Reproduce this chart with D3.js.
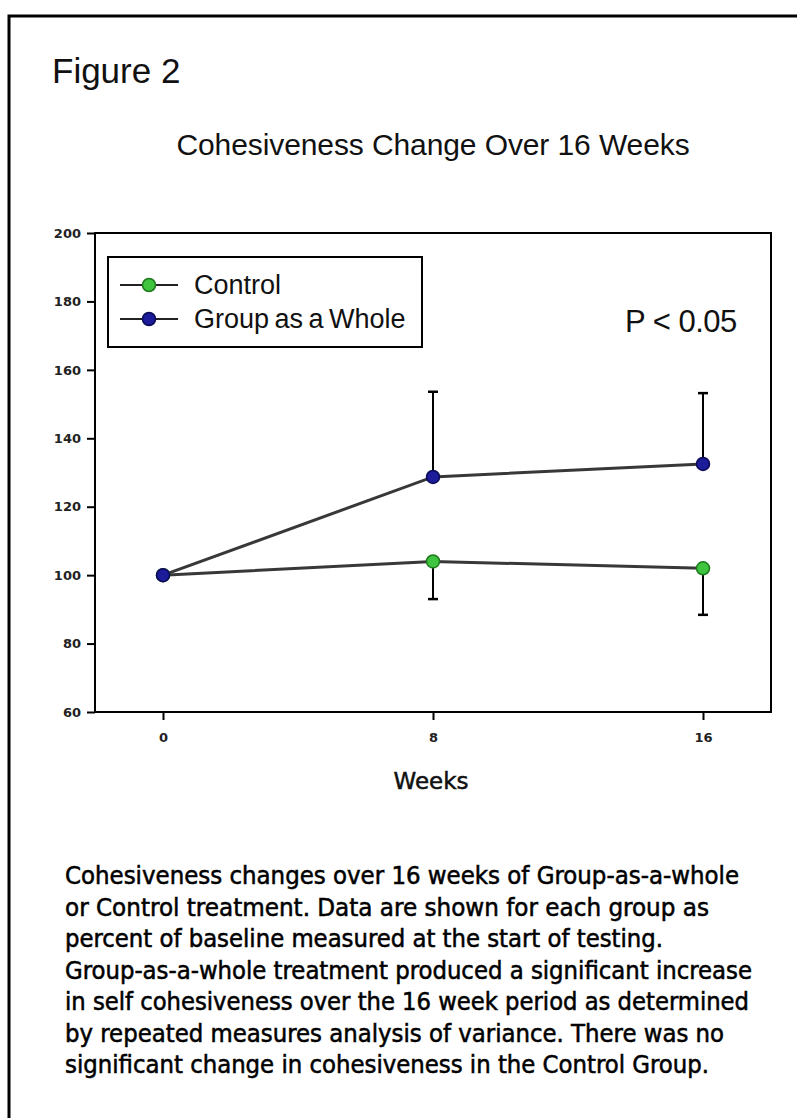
<!DOCTYPE html>
<html>
<head>
<meta charset="utf-8">
<script src="https://cdn.jsdelivr.net/npm/d3@7"></script>
<style>
  body { margin: 0; background: #fff; }
  svg { display: block; }
  .tick text { font-family: "DejaVu Sans", sans-serif; font-weight: bold; font-size: 13px; fill: #222; }
  .tick line { stroke: #000; stroke-width: 2; }
</style>
</head>
<body>
<div class="figure"></div>
<script>
// data
const weeks = [0, 8, 16];
const controlMean = [100, 104, 102];
const controlLow = [100, 93, 88.4];
const groupMean = [100, 128.7, 132.5];
const groupHigh = [100, 153.6, 153.2];
const yTicks = [60, 80, 100, 120, 140, 160, 180, 200];
const seriesNames = ["Control", "Group as a Whole"];
const captionLines = [
	"Cohesiveness changes over 16 weeks of Group-as-a-whole",
	"or Control treatment. Data are shown for each group as",
	"percent of baseline measured at the start of testing.",
	"Group-as-a-whole treatment produced a significant increase",
	"in self cohesiveness over the 16 week period as determined",
	"by repeated measures analysis of variance. There was no",
	"significant change in cohesiveness in the Control Group."
];
// right edge of each caption line in the picture
const captionRight = [739, 709, 663, 752, 749, 724, 709];

const svg = d3.select(".figure")
	.append("svg")
	.attr("width", 797)
	.attr("height", 1118);

// page frame
svg.append("rect")
	.attr("x", 9).attr("y", 16)
	.attr("width", 820).attr("height", 1130)
	.style("fill", "none").style("stroke", "#000").style("stroke-width", 3);

svg.append("text")
	.text("Figure 2")
	.attr("x", 52).attr("y", 83)
	.style("font-family", "Liberation Sans, Arial, sans-serif")
	.style("font-size", "35px")
	.style("fill", "#111");

svg.append("text")
	.text("Cohesiveness Change Over 16 Weeks")
	.attr("x", 433).attr("y", 155)
	.attr("text-anchor", "middle")
	.style("font-family", "Liberation Sans, Arial, sans-serif")
	.style("font-size", "30px")
	.style("letter-spacing", "-0.1px")
	.style("fill", "#111");

// scales
const plot = { left: 95, right: 771, top: 233, bottom: 712 };
const x = d3.scaleLinear().domain([0, 16]).range([163, 703]);
const y = d3.scaleLinear().domain([60, 200]).range([plot.bottom, plot.top]);

// axes
const yAxis = svg.append("g")
	.attr("transform", `translate(${plot.left},0)`)
	.call(d3.axisLeft(y).tickValues(yTicks).tickSize(8).tickSizeOuter(0).tickPadding(6));
yAxis.select(".domain").remove();

const xAxis = svg.append("g")
	.attr("transform", `translate(0,${plot.bottom})`)
	.call(d3.axisBottom(x).tickValues(weeks).tickSize(8).tickSizeOuter(0).tickPadding(13));
xAxis.select(".domain").remove();

svg.append("rect")
	.attr("x", plot.left).attr("y", plot.top)
	.attr("width", plot.right - plot.left).attr("height", plot.bottom - plot.top)
	.style("fill", "none").style("stroke", "#000").style("stroke-width", 2);

svg.append("text")
	.text("Weeks")
	.attr("x", 431).attr("y", 789)
	.attr("text-anchor", "middle")
	.style("font-family", "DejaVu Sans, sans-serif")
	.style("font-size", "23px")
	.style("fill", "#111")
	.style("stroke", "#111").style("stroke-width", 0.5);

// error bars
const errBars = [
	...weeks.map((w, i) => ({ w, from: controlMean[i], to: controlLow[i] })),
	...weeks.map((w, i) => ({ w, from: groupMean[i], to: groupHigh[i] }))
].filter((d) => d.from !== d.to);

const eb = svg.append("g").attr("class", "errors")
	.selectAll("g").data(errBars).enter().append("g");
eb.append("line")
	.attr("x1", (d) => x(d.w)).attr("x2", (d) => x(d.w))
	.attr("y1", (d) => y(d.from)).attr("y2", (d) => y(d.to))
	.style("stroke", "#000").style("stroke-width", 2);
eb.append("line")
	.attr("x1", (d) => x(d.w) - 5).attr("x2", (d) => x(d.w) + 5)
	.attr("y1", (d) => y(d.to)).attr("y2", (d) => y(d.to))
	.style("stroke", "#000").style("stroke-width", 2.5);

// lines and markers
const series = [
	{ name: seriesNames[0], values: controlMean, fill: "#3fc43f", stroke: "#1d7a1d" },
	{ name: seriesNames[1], values: groupMean, fill: "#1c1c9a", stroke: "#0a0a55" }
];
const line = d3.line().x((d, i) => x(weeks[i])).y((d) => y(d));

series.forEach((s) => {
	svg.append("path")
		.attr("d", line(s.values))
		.style("fill", "none").style("stroke", "#383838").style("stroke-width", 3);
});
series.forEach((s) => {
	svg.selectAll(null)
		.data(s.values).enter()
		.append("circle")
		.attr("cx", (d, i) => x(weeks[i]))
		.attr("cy", (d) => y(d))
		.attr("r", 6.5)
		.style("fill", s.fill).style("stroke", s.stroke).style("stroke-width", 1.5);
});

// legend
const legend = svg.append("g").attr("class", "legend");
legend.append("rect")
	.attr("x", 108).attr("y", 257).attr("width", 314).attr("height", 90)
	.style("fill", "#fff").style("stroke", "#000").style("stroke-width", 2);
const scaleLegend = d3.scalePoint().domain(seriesNames).range([285, 319]);
const marks = legend.selectAll(".item")
	.data(series).enter()
	.append("g").attr("class", "item")
	.attr("transform", (d) => `translate(0,${scaleLegend(d.name)})`);
marks.append("line")
	.attr("x1", 120).attr("x2", 178)
	.style("stroke", "#222").style("stroke-width", 2);
marks.append("circle")
	.attr("cx", 149).attr("r", 6.5)
	.style("fill", (d) => d.fill).style("stroke", (d) => d.stroke).style("stroke-width", 1.5);
marks.append("text")
	.text((d) => d.name)
	.attr("x", 194).attr("dy", 9)
	.style("font-family", "Liberation Sans, Arial, sans-serif")
	.style("font-size", "27px")
	.style("word-spacing", "-2px")
	.style("fill", "#111");

svg.append("text")
	.text("P < 0.05")
	.attr("x", 625).attr("y", 332)
	.style("font-family", "Liberation Sans, Arial, sans-serif")
	.style("font-size", "31px")
	.style("letter-spacing", "-0.5px")
	.style("fill", "#111");

// caption
svg.append("g").attr("class", "caption")
	.selectAll("text")
	.data(captionLines).enter()
	.append("text")
	.text((d) => d)
	.attr("x", 65)
	.attr("y", (d, i) => 884 + i * 31.5)
	.attr("textLength", (d, i) => captionRight[i] - 65)
	.attr("lengthAdjust", "spacingAndGlyphs")
	.style("font-family", "DejaVu Sans Condensed, DejaVu Sans, sans-serif")
	.style("font-size", "24px")
	.style("fill", "#000")
	.style("stroke", "#000").style("stroke-width", 0.5);
</script>
</body>
</html>
